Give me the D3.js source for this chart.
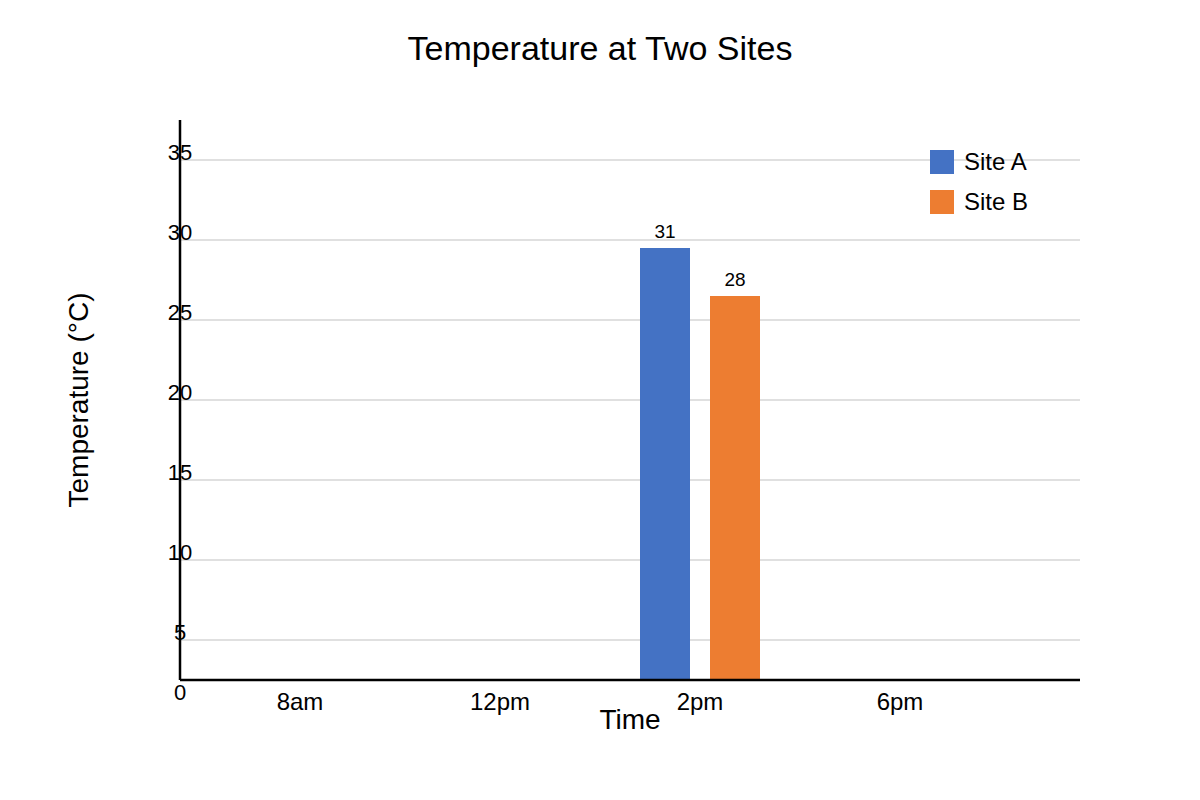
<!DOCTYPE html>
<html>
<head>
<meta charset="utf-8">
<script src="https://cdn.jsdelivr.net/npm/d3@7"></script>
<style>
  body { margin: 0; background: #fff; }
  text { font-family: "Liberation Sans", Arial, sans-serif; fill: #000; }
</style>
</head>
<body>
<div id="chart"></div>
<script>
var categories = ["8am", "12pm", "2pm", "6pm"];
var siteA = [null, null, 31, null];
var siteB = [null, null, 28, null];
var seriesNames = ["Site A", "Site B"];
var seriesColors = ["#4472C4", "#ED7D31"];
var yTicks = [5, 10, 15, 20, 25, 30, 35];

var width = 1200, height = 800;
var margin = {top: 120, right: 120, bottom: 120, left: 180};
var plotRight = width - margin.right;
var plotBottom = height - margin.bottom;

var svg = d3.select("#chart").append("svg")
  .attr("width", width)
  .attr("height", height);

// grid scale and bar scale do not share a zero in the original picture
var yScale = d3.scaleLinear()
  .domain([0, 35])
  .range([plotBottom + 40, margin.top + 40]);

var barScale = d3.scaleLinear()
  .domain([4, 39])
  .range([plotBottom, margin.top]);

var xScale = d3.scaleBand()
  .domain(categories)
  .range([200, 1000]);

var xInner = d3.scaleBand()
  .domain(seriesNames)
  .range([40, 160])
  .paddingInner(2 / 7);

// title
svg.append("text")
  .attr("x", width / 2)
  .attr("y", 60)
  .attr("text-anchor", "middle")
  .style("font-size", "34px")
  .text("Temperature at Two Sites");

// gridlines
svg.append("g").selectAll("line")
  .data(yTicks)
  .enter()
  .append("line")
  .attr("x1", margin.left)
  .attr("x2", plotRight)
  .attr("y1", function(d) { return yScale(d); })
  .attr("y2", function(d) { return yScale(d); })
  .attr("stroke", "#e0e0e0")
  .attr("stroke-width", 2);

// bars
var rows = categories.map(function(c, i) {
  return {cat: c, values: [siteA[i], siteB[i]]};
});

var groups = svg.append("g").selectAll("g")
  .data(rows)
  .enter()
  .append("g")
  .attr("transform", function(d) { return "translate(" + xScale(d.cat) + ",0)"; });

var cells = groups.selectAll("g")
  .data(function(d) {
    return d.values.map(function(v, j) { return {name: seriesNames[j], value: v, color: seriesColors[j]}; })
      .filter(function(e) { return e.value != null; });
  })
  .enter()
  .append("g");

cells.append("rect")
  .attr("x", function(d) { return xInner(d.name); })
  .attr("y", function(d) { return barScale(d.value); })
  .attr("width", xInner.bandwidth())
  .attr("height", function(d) { return plotBottom - barScale(d.value); })
  .attr("fill", function(d) { return d.color; });

cells.append("text")
  .attr("x", function(d) { return xInner(d.name) + xInner.bandwidth() / 2; })
  .attr("y", function(d) { return barScale(d.value) - 10; })
  .attr("text-anchor", "middle")
  .style("font-size", "19px")
  .text(function(d) { return d.value; });

// axis lines
svg.append("line")
  .attr("x1", margin.left).attr("x2", margin.left)
  .attr("y1", margin.top).attr("y2", plotBottom)
  .attr("stroke", "#000").attr("stroke-width", 2.5);

svg.append("line")
  .attr("x1", margin.left).attr("x2", plotRight)
  .attr("y1", plotBottom).attr("y2", plotBottom)
  .attr("stroke", "#000").attr("stroke-width", 2.5);

// y tick labels, sitting on the gridlines
svg.append("g").selectAll("text")
  .data(yTicks)
  .enter()
  .append("text")
  .attr("x", margin.left)
  .attr("y", function(d) { return yScale(d); })
  .attr("text-anchor", "middle")
  .style("font-size", "22px")
  .text(function(d) { return d; });

svg.append("text")
  .attr("x", margin.left)
  .attr("y", plotBottom + 20)
  .attr("text-anchor", "middle")
  .style("font-size", "22px")
  .text(yScale.domain()[0]);

// x axis labels
var xAxis = d3.axisBottom(xScale).tickSize(0).tickPadding(13);
var xAxisGroup = svg.append("g")
  .attr("transform", "translate(0," + plotBottom + ")")
  .call(xAxis);
xAxisGroup.select(".domain").remove();
xAxisGroup.selectAll("text")
  .attr("fill", "#000")
  .style("font-size", "24px")
  .style("font-family", "'Liberation Sans', Arial, sans-serif");

// axis titles
svg.append("text")
  .attr("x", (margin.left + plotRight) / 2)
  .attr("y", 729)
  .attr("text-anchor", "middle")
  .style("font-size", "28px")
  .text("Time");

svg.append("text")
  .attr("transform", "translate(88,400) rotate(-90)")
  .attr("text-anchor", "middle")
  .style("font-size", "28px")
  .text("Temperature (°C)");

// legend
var legend = svg.append("g").selectAll("g")
  .data(seriesNames)
  .enter()
  .append("g")
  .attr("transform", function(d, i) { return "translate(930," + (150 + i * 40) + ")"; });

legend.append("rect")
  .attr("width", 24)
  .attr("height", 24)
  .attr("fill", function(d, i) { return seriesColors[i]; });

legend.append("text")
  .attr("x", 34)
  .attr("y", 20)
  .style("font-size", "24px")
  .text(function(d) { return d; });
</script>
</body>
</html>
